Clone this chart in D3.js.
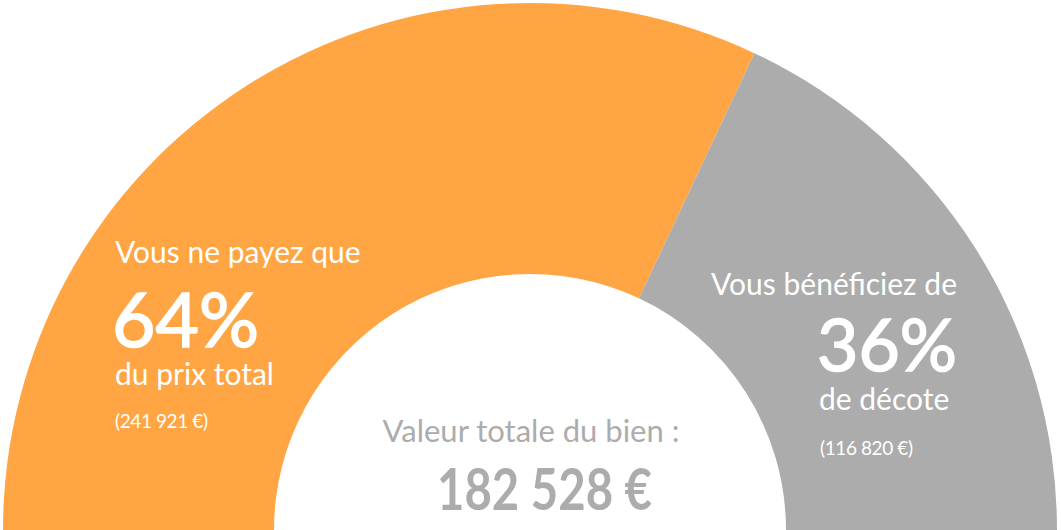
<!DOCTYPE html>
<html>
<head>
<meta charset="utf-8">
<script src="https://cdn.jsdelivr.net/npm/d3@7"></script>
<style>
    body { margin: 0; background: #fff; }
    svg { display: block; font-family: Lato, "Open Sans", sans-serif; }
</style>
</head>
<body>
<script>
// share of the price paid vs discount
var labels = ["Vous ne payez que", "Vous bénéficiez de"];
var shares = [64, 36];
var captions = ["du prix total", "de décote"];
var amounts = [241921, 116820];
var colors = ["#FFA544", "#ACACAC"];

var totalLabel = "Valeur totale du bien :";
var totalValue = 182528;

var w = 1061, h = 530;
var cx = 530, cy = 530;
var rOuter = 527, rInner = 256;

var fr = d3.formatLocale({decimal: ",", thousands: " ", grouping: [3], currency: ["", " €"]});
var money = fr.format("$,.0f");

var svg = d3.select("body").append("svg")
    .attr("width", w)
    .attr("height", h);

var pie = d3.pie()
    .sort(null)
    .startAngle(-Math.PI / 2)
    .endAngle(Math.PI / 2);

var arc = d3.arc()
    .innerRadius(rInner)
    .outerRadius(rOuter);

var g = svg.append("g")
    .attr("transform", "translate(" + cx + "," + cy + ")");

g.selectAll(".slice")
    .data(pie(shares))
    .enter()
    .append("path")
    .attr("class", "slice")
    .attr("d", arc)
    .style("fill", function(d, i){ return colors[i]; });

// left block (orange)
var left = svg.append("g").attr("fill", "#fff");
left.append("text").attr("x", 115).attr("y", 263)
    .style("font-size", "30px").text(labels[0]);
left.append("text").attr("x", 112).attr("y", 347)
    .style("font-size", "75px")
    .attr("stroke", "#fff").attr("stroke-width", 1.6)
    .attr("textLength", 147).attr("lengthAdjust", "spacingAndGlyphs")
    .text(shares[0] + "%");
left.append("text").attr("x", 115).attr("y", 385)
    .style("font-size", "30px").text(captions[0]);
left.append("text").attr("x", 115).attr("y", 428)
    .style("font-size", "19px").style("letter-spacing", "-0.4px")
    .text("(" + money(amounts[0]) + ")");

// right block (grey)
var right = svg.append("g").attr("fill", "#fff");
right.append("text").attr("x", 957).attr("y", 295)
    .attr("text-anchor", "end")
    .style("font-size", "30px").text(labels[1]);
right.append("text").attr("x", 817).attr("y", 371)
    .style("font-size", "72px")
    .attr("stroke", "#fff").attr("stroke-width", 1.6)
    .attr("textLength", 140).attr("lengthAdjust", "spacingAndGlyphs")
    .text(shares[1] + "%");
right.append("text").attr("x", 819).attr("y", 410)
    .style("font-size", "30px").text(captions[1]);
right.append("text").attr("x", 820).attr("y", 455)
    .style("font-size", "19px").style("letter-spacing", "-0.4px")
    .text("(" + money(amounts[1]) + ")");

// centre
svg.append("text")
    .attr("x", 531).attr("y", 442)
    .attr("text-anchor", "middle")
    .attr("fill", "#ACACAC")
    .style("font-size", "31px")
    .text(totalLabel);

svg.append("text")
    .attr("x", 437).attr("y", 510)
    .attr("fill", "#ACACAC")
    .style("font-size", "57px")
    .style("font-weight", "bold")
    .attr("textLength", 215).attr("lengthAdjust", "spacingAndGlyphs")
    .text(money(totalValue));
</script>
</body>
</html>
